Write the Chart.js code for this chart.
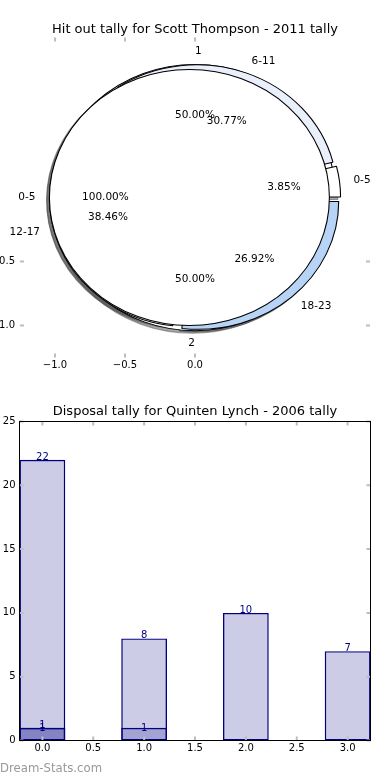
<!DOCTYPE html>
<html>
<head>
<meta charset="utf-8">
<script src="https://cdn.jsdelivr.net/npm/chart.js@4.4.1/dist/chart.umd.min.js"></script>
<style>
  html, body { margin: 0; padding: 0; background: #fff; width: 390px; height: 780px; overflow: hidden; }
  #wrap { position: relative; width: 390px; height: 780px; }
  canvas { position: absolute; left: 0; }
  #mark { position: absolute; left: 0px; top: 761px; font: 11.7px "DejaVu Sans"; color: #999; white-space: nowrap; }
</style>
</head>
<body>
<div id="wrap">
  <canvas id="pieAxes" width="390" height="380" style="top:0"></canvas>
  <canvas id="pies" width="390" height="380" style="top:0"></canvas>
  <canvas id="bars" width="390" height="380" style="top:380px"></canvas>
  <div id="mark">Dream-Stats.com</div>
</div>
<script>
// ---------------- DATA ----------------
const pieTitle = 'Hit out tally for Scott Thompson - 2011 tally';
const pieALabels = ['0-5'];
const pieAValues = [1];
const pieBLabels = ['1', '2'];
const pieBValues = [1, 1];
const pieCLabels = ['0-5', '6-11', '12-17', '18-23'];
const pieCValues = [1, 8, 10, 7];
const pieXTicks = [-1.0, -0.5, 0.0];
const pieYTicks = [-0.5, -1.0];

const barTitle = 'Disposal tally for Quinten Lynch - 2006 tally';
const barPositions = [0, 1, 2, 3];
const barSeries1 = [22, 8, 10, 7];
const barSeries2 = [1, 1, null, null];
const barSeries3 = [1, null, null, null];
const barXTicks = [0.0, 0.5, 1.0, 1.5, 2.0, 2.5, 3.0];
const barYTicks = [0, 5, 10, 15, 20, 25];

// ---------------- STYLE ----------------
Chart.defaults.font.family = '"DejaVu Sans", sans-serif';
Chart.defaults.color = '#000';
const FONT_TICK = { size: 10 };
const TITLE_FONT = { size: 13, weight: 'normal' };
const pieAColors = ['#ffffff'];
const pieBColors = ['#ffffff', '#ffffff'];
const pieCColors = ['#ffffff', '#e9f0fc', '#ffffff', '#b7d4f7'];
const EXPLODE = 0.04, LABEL_DIST = 1.1, PCT_DIST = 0.6, SHADOW = 0.02;
const fmtTick = v => (v < 0 ? '\u2212' : '') + Math.abs(v).toFixed(1);

// a blank right-hand axis that only reserves space
const spacerAxis = w => ({
  type: 'linear', position: 'right', display: true,
  grid: { display: false, drawTicks: false }, border: { display: false },
  ticks: { display: false },
  afterFit: s => { s.width = w; }
});

// inward tick marks (+ optional frame)
const innerTicks = {
  id: 'innerTicks',
  afterDatasetsDraw(chart, args, opts) {
    const { ctx, chartArea: a } = chart;
    const xs = chart.scales.x, ys = chart.scales.y, L = 4;
    ctx.save();
    ctx.strokeStyle = '#bdbdbd';
    ctx.lineWidth = 2;
    ctx.beginPath();
    xs.ticks.forEach(t => {
      const p = xs.getPixelForValue(t.value);
      ctx.moveTo(p, a.top); ctx.lineTo(p, a.top + L);
      ctx.moveTo(p, a.bottom); ctx.lineTo(p, a.bottom - L);
    });
    ys.ticks.forEach(t => {
      const p = ys.getPixelForValue(t.value);
      ctx.moveTo(a.left, p); ctx.lineTo(a.left + L, p);
      ctx.moveTo(a.right, p); ctx.lineTo(a.right - L, p);
    });
    ctx.stroke();
    if (opts.frame) {
      ctx.strokeStyle = '#000';
      ctx.lineWidth = 1;
      ctx.strokeRect(a.left, a.top, a.right - a.left, a.bottom - a.top);
    }
    ctx.restore();
  }
};

// ---------------- PIE AXES ----------------
const axesChart = new Chart(document.getElementById('pieAxes'), {
  type: 'scatter',
  data: { datasets: [] },
  options: {
    responsive: false, animation: false, events: [],
    layout: { padding: 0 },
    plugins: {
      legend: { display: false }, tooltip: { enabled: false },
      title: { display: true, text: pieTitle, font: TITLE_FONT, color: '#000', padding: { top: 22, bottom: 0 } },
      innerTicks: { frame: false }
    },
    scales: {
      x: {
        type: 'linear', min: -1.25, max: 1.25,
        grid: { display: false, drawTicks: false }, border: { display: false },
        afterBuildTicks: s => { s.ticks = pieXTicks.map(v => ({ value: v })); },
        afterFit: s => { s.height = 22.5; },
        ticks: { font: FONT_TICK, padding: 2, callback: v => fmtTick(v), maxRotation: 0 }
      },
      y: {
        type: 'linear', min: -1.25, max: 1.25,
        grid: { display: false, drawTicks: false }, border: { display: false },
        afterBuildTicks: s => { s.ticks = pieYTicks.map(v => ({ value: v })); },
        afterFit: s => { s.width = 20; },
        ticks: { font: FONT_TICK, padding: 5, callback: v => fmtTick(v) }
      },
      yRight: spacerAxis(20)
    }
  },
  plugins: [innerTicks]
});

function pieFrame() {
  const xs = axesChart.scales.x, ys = axesChart.scales.y;
  const cx = xs.getPixelForValue(0), cy = ys.getPixelForValue(0);
  const R = cy - ys.getPixelForValue(1);
  const sx = (xs.getPixelForValue(1) - cx) / R;
  return { xs, ys, cx, cy, R, sx };
}
function pieGeometry(values) {
  const total = values.reduce((a, b) => a + b, 0);
  let acc = 0;
  return values.map(v => {
    const t1 = acc / total; acc += v; const t2 = acc / total;
    return { a1: 2 * Math.PI * t1, a2: 2 * Math.PI * t2, mid: 2 * Math.PI * 0.5 * (t1 + t2),
             pct: (v / total * 100).toFixed(2) + '%' };
  });
}
function shade(hex) {
  const n = parseInt(hex.slice(1), 16);
  const r = Math.round(((n >> 16) & 255) * 0.3), g = Math.round(((n >> 8) & 255) * 0.3), b = Math.round((n & 255) * 0.3);
  return `rgba(${r},${g},${b},0.5)`;
}

// dataset order: index 0 is drawn on top
const pieSpecs = [
  { labels: pieALabels, values: pieAValues, colors: pieAColors, outline: true },
  { labels: pieCLabels, values: pieCValues, colors: pieCColors, outline: false },
  { labels: pieBLabels, values: pieBValues, colors: pieBColors, outline: false }
];
const labelOrder = [2, 1, 0];

const pieLayout = {
  id: 'pieLayout',
  afterDatasetsUpdate(chart) {
    const f = pieFrame();
    chart.data.datasets.forEach((ds, i) => {
      const geo = pieGeometry(ds.data);
      chart.getDatasetMeta(i).data.forEach((arc, j) => {
        const s = geo[j];
        arc.x = f.cx + EXPLODE * f.R * Math.cos(s.mid);
        arc.y = f.cy - EXPLODE * f.R * Math.sin(s.mid);
        arc.startAngle = -s.a2;
        arc.endAngle = -s.a1;
        arc.circumference = s.a2 - s.a1;
        arc.innerRadius = 0;
        arc.outerRadius = f.R;
      });
    });
  },
  beforeDatasetsDraw(chart) {
    const f = pieFrame(), ctx = chart.ctx;
    ctx.save();
    ctx.translate(f.cx, 0); ctx.scale(f.sx, 1); ctx.translate(-f.cx, 0);
    ctx.save();
    ctx.translate(-SHADOW * f.R, SHADOW * f.R);
    chart.data.datasets.forEach((ds, i) => {
      chart.getDatasetMeta(i).data.forEach((arc, j) => {
        ctx.beginPath();
        ctx.moveTo(arc.x, arc.y);
        ctx.arc(arc.x, arc.y, arc.outerRadius, arc.startAngle, arc.endAngle);
        ctx.closePath();
        ctx.fillStyle = ctx.strokeStyle = shade(pieSpecs[i].colors[j]);
        ctx.lineWidth = 1;
        ctx.fill(); ctx.stroke();
      });
    });
    ctx.restore();
  },
  afterDatasetsDraw(chart) {
    const f = pieFrame(), ctx = chart.ctx;
    pieSpecs.forEach((spec, i) => {
      if (!spec.outline) return;
      chart.getDatasetMeta(i).data.forEach(arc => {
        ctx.beginPath();
        ctx.arc(arc.x, arc.y, arc.outerRadius, 0, 2 * Math.PI);
        ctx.strokeStyle = '#000'; ctx.lineWidth = 1; ctx.stroke();
      });
    });
    ctx.restore();
    // labels
    ctx.save();
    ctx.font = '10.5px "DejaVu Sans"';
    ctx.fillStyle = '#000';
    ctx.textBaseline = 'middle';
    labelOrder.forEach(i => {
      const spec = pieSpecs[i];
      pieGeometry(spec.values).forEach((s, j) => {
        const c = Math.cos(s.mid), sn = Math.sin(s.mid);
        const ex = EXPLODE * c, ey = EXPLODE * sn;
        const lx = ex + LABEL_DIST * c, ly = ey + LABEL_DIST * sn;
        ctx.textAlign = lx > 0 ? 'left' : 'right';
        ctx.fillText(spec.labels[j], f.xs.getPixelForValue(lx), f.ys.getPixelForValue(ly));
        ctx.textAlign = 'center';
        ctx.fillText(s.pct, f.xs.getPixelForValue(ex + PCT_DIST * c), f.ys.getPixelForValue(ey + PCT_DIST * sn));
      });
    });
    ctx.restore();
  }
};

new Chart(document.getElementById('pies'), {
  type: 'pie',
  data: {
    labels: pieCLabels,
    datasets: pieSpecs.map(spec => ({
      data: spec.values,
      backgroundColor: spec.colors,
      borderColor: '#000',
      borderWidth: spec.outline ? 0 : 1,
      clip: false
    }))
  },
  options: {
    responsive: false, animation: false, events: [],
    layout: { padding: 0 },
    plugins: { legend: { display: false }, tooltip: { enabled: false } }
  },
  plugins: [pieLayout]
});

// ---------------- BAR CHART ----------------
const barLabels = {
  id: 'barLabels',
  afterDatasetsDraw(chart) {
    const ctx = chart.ctx;
    ctx.save();
    ctx.font = '10px "DejaVu Sans"';
    ctx.fillStyle = '#000080';
    ctx.textAlign = 'center';
    ctx.textBaseline = 'alphabetic';
    chart.data.datasets.forEach((ds, i) => {
      chart.getDatasetMeta(i).data.forEach((bar, j) => {
        const v = ds.data[j].y;
        if (v == null) return;
        ctx.fillText(String(v), bar.x, bar.y + (ds.labelShift || 0));
      });
    });
    ctx.restore();
  }
};
// bar width = 0.45 x-units (the library measures against the 0.5 tick spacing)
const mkSeries = (vals, shift) => ({
  data: barPositions.map((x, i) => ({ x, y: vals[i] })),
  backgroundColor: 'rgba(0,0,128,0.2)',
  borderColor: '#000080',
  borderWidth: 1.4,
  borderSkipped: false,
  grouped: false,
  barPercentage: 1,
  categoryPercentage: 0.9,
  labelShift: shift
});

new Chart(document.getElementById('bars'), {
  type: 'bar',
  data: { datasets: [mkSeries(barSeries1, 0), mkSeries(barSeries2, 3.5), mkSeries(barSeries3, 0)] },
  options: {
    responsive: false, animation: false, events: [],
    layout: { padding: 0 },
    plugins: {
      legend: { display: false }, tooltip: { enabled: false },
      title: { display: true, text: barTitle, font: TITLE_FONT, color: '#000', padding: { top: 24, bottom: 1.9 } },
      innerTicks: { frame: true }
    },
    scales: {
      x: {
        type: 'linear', min: -0.225, max: 3.225, offset: false,
        grid: { display: false, drawTicks: false }, border: { display: false },
        afterBuildTicks: s => { s.ticks = barXTicks.map(v => ({ value: v })); },
        afterFit: s => { s.height = 19.5; },
        ticks: { font: FONT_TICK, padding: 2, callback: v => fmtTick(v), maxRotation: 0 }
      },
      y: {
        type: 'linear', min: 0, max: 25,
        grid: { display: false, drawTicks: false }, border: { display: false },
        afterBuildTicks: s => { s.ticks = barYTicks.map(v => ({ value: v })); },
        afterFit: s => { s.width = 19.5; },
        ticks: { font: FONT_TICK, padding: 4, callback: v => String(v) }
      },
      yRight: spacerAxis(19.5)
    }
  },
  plugins: [innerTicks, barLabels]
});
</script>
</body>
</html>
